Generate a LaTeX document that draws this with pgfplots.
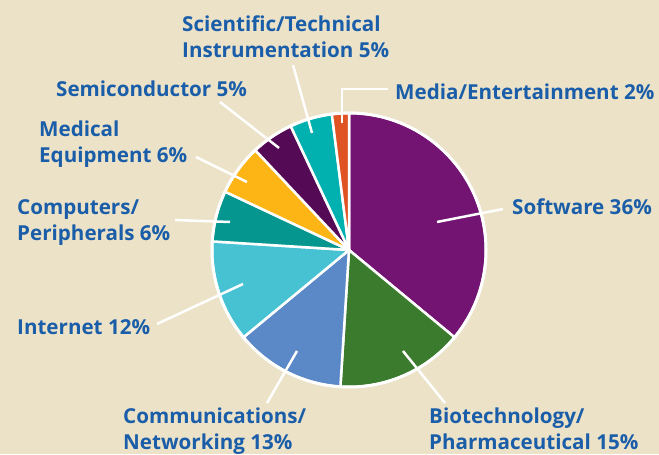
\documentclass[border=0pt]{standalone}
\usepackage{pgfplots}
\pgfplotsset{compat=1.18}
\usepackage{fontspec}
\setmainfont{Open Sans}
\definecolor{bg}{HTML}{ECE2C8}
\definecolor{txt}{HTML}{1A5DA8}
\definecolor{csoft}{HTML}{731472}
\definecolor{cbio}{HTML}{3A7B2E}
\definecolor{ccomm}{HTML}{5B88C6}
\definecolor{cinet}{HTML}{47C2D3}
\definecolor{ccomp}{HTML}{04968F}
\definecolor{cmed}{HTML}{FDB515}
\definecolor{csemi}{HTML}{540A55}
\definecolor{csci}{HTML}{00B1B0}
\definecolor{cmedia}{HTML}{E05323}
% slice: #1 cumulative start (%), #2 share (%), #3 colour
\newcommand{\slice}[3]{%
  \filldraw[fill=#3, draw=white, line width=2.5pt, line join=round]
    (axis cs:349,204) -- (axis cs:{349+137*cos(90-3.6*#1)},{204+137*sin(90-3.6*#1)})
    arc[start angle={90-3.6*#1}, end angle={90-3.6*(#1+#2)}, radius=137] -- cycle;}
\newcommand{\lab}[3]{\node[anchor=base west, inner sep=0pt, text=txt, font=\fontsize{20.6}{26}\selectfont\bfseries] at (axis cs:#1,{454-#2}) {#3};}
\newcommand{\lead}[4]{\draw[white, line width=2.5pt] (axis cs:#1,{454-#2}) -- (axis cs:#3,{454-#4});}
\begin{document}
\begin{tikzpicture}
\begin{axis}[x=1pt, y=1pt, xmin=0, xmax=659, ymin=0, ymax=454,
  hide axis, clip=false, scale only axis]
\fill[bg] (axis cs:0,0) rectangle (axis cs:659,454);
\slice{0}{36}{csoft}
\slice{36}{15}{cbio}
\slice{51}{13}{ccomm}
\slice{64}{12}{cinet}
\slice{76}{6}{ccomp}
\slice{82}{6}{cmed}
\slice{88}{5}{csemi}
\slice{93}{5}{csci}
\slice{98}{2}{cmedia}
\draw[white, line width=3pt] (axis cs:349,204) circle[radius=137];
% leader lines
\lead{293}{65}{312}{133}
\draw[white, line width=2.5pt] (axis cs:388,{454-89}) -- (axis cs:342,{454-89}) -- (axis cs:342,{454-123});
\lead{220}{102}{279}{148}
\lead{196}{157}{247}{182}
\lead{175}{220}{230}{222}
\lead{503}{209}{437}{222}
\lead{157}{324}{243}{284}
\lead{267}{403}{297}{351}
\lead{445}{403}{403}{351}
% labels
\lab{182}{32}{Scientific/Technical}
\lab{182}{58}{Instrumentation 5\%}
\lab{395}{100}{Media/Entertainment 2\%}
\lab{56}{97}{Semiconductor 5\%}
\lab{39}{137}{Medical}
\lab{39}{163}{Equipment 6\%}
\lab{17}{215}{Computers/}
\lab{17}{241}{Peripherals 6\%}
\lab{512}{215}{Software 36\%}
\lab{17}{335}{Internet 12\%}
\lab{123}{424}{Communications/}
\lab{123}{450}{Networking 13\%}
\lab{429}{424}{Biotechnology/}
\lab{429}{450}{Pharmaceutical 15\%}
\end{axis}
\end{tikzpicture}
\end{document}
